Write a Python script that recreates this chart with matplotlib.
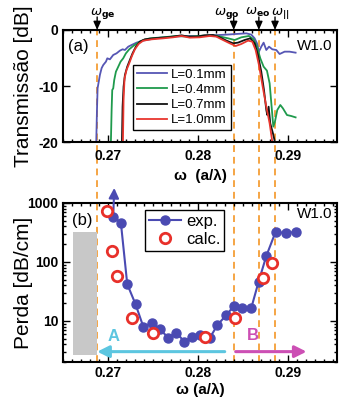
import matplotlib
matplotlib.use("Agg")
import matplotlib.pyplot as plt
import matplotlib.transforms as mtransforms
from matplotlib.lines import Line2D
from matplotlib.patches import Rectangle
from matplotlib.ticker import FixedLocator, MultipleLocator, LogLocator, NullFormatter

plt.rcParams['font.family'] = ['Liberation Sans', 'DejaVu Sans']
plt.rcParams['mathtext.fontset'] = 'dejavusans'

# ---------------- transmission spectra (panel a) ----------------
w_01 = [0.26870, 0.26878, 0.26885, 0.26911, 0.26930, 0.26948, 0.26978, 0.26993,
        0.27022, 0.27059, 0.27096, 0.27133, 0.27163, 0.27189, 0.27226, 0.27263,
        0.27319, 0.27393, 0.27467, 0.27578, 0.27726, 0.27874, 0.28022, 0.28170,
        0.28319, 0.28430, 0.28541, 0.28596, 0.28633, 0.28659, 0.28681, 0.28707,
        0.28733, 0.28763, 0.28793, 0.28830, 0.28874, 0.28911, 0.28967, 0.29022,
        0.29089]
t_01 = [-20.0, -14.3, -10.4, -8.0, -6.8, -6.25, -5.65, -5.06,
        -5.24, -4.46, -4.17, -3.69, -3.45, -3.57, -2.98, -2.68,
        -2.26, -1.90, -1.67, -1.37, -1.19, -1.07, -1.07, -0.95,
        -0.83, -0.71, -0.60, -0.83, -1.49, -2.38, -3.87, -2.98,
        -2.26, -3.57, -2.98, -3.45, -3.57, -4.29, -3.87, -3.87,
        -4.05]

w_04 = [0.27033, 0.27041, 0.27048, 0.27059, 0.27070, 0.27089, 0.27115, 0.27141,
        0.27170, 0.27200, 0.27237, 0.27281, 0.27337, 0.27393, 0.27467, 0.27615,
        0.27763, 0.27911, 0.28059, 0.28207, 0.28337, 0.28411, 0.28485, 0.28570,
        0.28622, 0.28659, 0.28696, 0.28733, 0.28770, 0.28800, 0.28822, 0.28841,
        0.28859, 0.28885, 0.28919, 0.28948, 0.28993, 0.29041, 0.29089]
t_04 = [-20.0, -14.29, -10.71, -10.42, -8.93, -7.44, -6.55, -5.65,
        -5.06, -4.17, -3.45, -2.86, -2.26, -1.79, -1.49, -1.31,
        -1.07, -1.19, -1.01, -1.01, -1.49, -1.79, -1.31, -1.07,
        -1.67, -2.98, -5.06, -6.55, -7.26, -9.52, -13.69, -17.26,
        -16.37, -14.29, -13.39, -13.99, -15.18, -15.36, -15.60]

w_07 = [0.27156, 0.27163, 0.27174, 0.27189, 0.27215, 0.27244, 0.27274, 0.27311,
        0.27356, 0.27411, 0.27504, 0.27615, 0.27726, 0.27819, 0.27893, 0.27985,
        0.28078, 0.28170, 0.28244, 0.28319, 0.28393, 0.28448, 0.28522, 0.28585,
        0.28633, 0.28670, 0.28707, 0.28737, 0.28763, 0.28774, 0.28789, 0.28807,
        0.28837, 0.28859]
t_07 = [-20.0, -13.69, -10.12, -8.04, -6.55, -5.36, -4.17, -2.98,
        -2.08, -1.67, -1.49, -1.37, -1.19, -0.95, -1.19, -1.19,
        -0.95, -0.89, -1.31, -1.90, -2.38, -2.26, -1.79, -1.49,
        -2.38, -4.46, -7.44, -10.71, -14.29, -15.18, -13.69, -16.67,
        -18.45, -20.0]

w_10 = [0.27167, 0.27174, 0.27185, 0.27207, 0.27237, 0.27267, 0.27300, 0.27341,
        0.27393, 0.27485, 0.27615, 0.27726, 0.27819, 0.27911, 0.28022, 0.28133,
        0.28207, 0.28281, 0.28356, 0.28422, 0.28485, 0.28559, 0.28607, 0.28644,
        0.28681, 0.28726, 0.28763, 0.28800, 0.28830]
t_10 = [-20.0, -12.5, -8.63, -7.14, -5.95, -4.64, -3.45, -2.50,
        -1.90, -1.67, -1.49, -1.31, -1.07, -1.37, -1.31, -1.07,
        -1.19, -1.79, -2.38, -2.86, -2.50, -1.90, -2.08, -3.57,
        -6.25, -10.42, -13.69, -16.67, -20.0]

lengths = ["L=0.1mm", "L=0.4mm", "L=0.7mm", "L=1.0mm"]
colors_a = ["#5656b4", "#1f9a4c", "#111111", "#e8362e"]

# ---------------- propagation loss (panel b) ----------------
exp_w = [0.27059, 0.27144, 0.27215, 0.27307, 0.27393, 0.27485, 0.27578, 0.27670,
         0.27763, 0.27848, 0.27941, 0.28022, 0.28133, 0.28219, 0.28319, 0.28403,
         0.28492, 0.28597, 0.28678, 0.28763, 0.28867, 0.28985, 0.29089]
exp_loss = [586, 464, 41.9, 19.2, 8.0, 9.1, 7.2, 5.2,
            6.3, 4.45, 5.4, 5.8, 5.1, 8.5, 12.6, 17.9,
            16.5, 16.8, 46.5, 126, 326, 306, 326]

calc_w = [0.26992, 0.27041, 0.27103, 0.27270, 0.27504, 0.28078, 0.28419, 0.28726, 0.28826]
calc_loss = [741, 155, 58.6, 11.1, 6.3, 5.25, 11.1, 52.9, 97]

# band-edge frequencies marked across both panels
omega_marks = [0.2688, 0.2840, 0.2868, 0.2886]
omega_names = [r'$\omega_{\mathbf{ge}}$', r'$\omega_{\mathbf{go}}$',
               r'$\omega_{\mathbf{eo}}$', r'$\omega_{\mathbf{||}}$']

xticks = [0.27, 0.28, 0.29]
xtick_labels = ["0.27", "0.28", "0.29"]
yticks_a = [0, -10, -20]
ytick_labels_a = ["0", "-10", "-20"]
yticks_b = [10, 100, 1000]
ytick_labels_b = ["10", "100", "1000"]

gray_band_w = (0.26611, 0.26878)
gray_band_loss = (2.6, 320)

region_a = (0.2830, 0.26881)
region_b = (0.28422, 0.29211)
region_level = 3.0

blue = "#4a4ab2"
red = "#e8302a"
orange = "#f5a544"
cyan = "#5cc6e0"
magenta = "#cc4fb4"

fig = plt.figure(figsize=(3.47, 4.03), dpi=100)
ax1 = fig.add_axes([0.1816, 0.6476, 0.7896, 0.278])
ax2 = fig.add_axes([0.1816, 0.1017, 0.7896, 0.3946])

for ax in (ax1, ax2):
    ax.set_facecolor('none')
    ax.set_xlim(0.265, 0.2955)
    for s in ax.spines.values():
        s.set_linewidth(1.5)
    ax.tick_params(which='both', direction='in', top=True, right=True, width=1)
    ax.tick_params(which='major', length=5)
    ax.tick_params(which='minor', length=2.5)
    ax.xaxis.set_major_locator(FixedLocator(xticks))
    ax.xaxis.set_minor_locator(MultipleLocator(0.001))
    ax.set_xticklabels(xtick_labels, fontweight='bold', fontsize=10)

# dashed guide lines spanning both panels (drawn behind the data)
trans = mtransforms.blended_transform_factory(ax1.transData, fig.transFigure)
y_top = 0.6476 + 0.278
y_bot = 0.1017
for wv in omega_marks:
    ln = Line2D([wv, wv], [y_bot, y_top], transform=trans, color=orange,
                lw=1.4, ls=(0, (3.5, 2.5)), zorder=-1)
    fig.add_artist(ln)

# ---- panel a ----
for w, t, lab, c in zip([w_01, w_04, w_07, w_10], [t_01, t_04, t_07, t_10], lengths, colors_a):
    ax1.plot(w, t, color=c, lw=1.3, label=lab)
ax1.set_ylim(-20, 0)
ax1.yaxis.set_major_locator(FixedLocator(yticks_a))
ax1.set_yticklabels(ytick_labels_a, fontweight='bold', fontsize=10)
ax1.tick_params(axis='x', pad=5)
ax1.set_ylabel("Transmissão [dB]", fontsize=15)
ax1.yaxis.set_label_coords(-0.11, 0.5)
ax1.set_xlabel("ω  (a/λ)", fontsize=11, fontweight='bold')
ax1.xaxis.set_label_coords(0.5, -0.24)
leg1 = ax1.legend(loc='upper left', bbox_to_anchor=(0.255, 0.69), fontsize=9.5,
                  handlelength=2.3, handletextpad=0.3, labelspacing=0.22,
                  borderpad=0.3, borderaxespad=0, fancybox=False, framealpha=1,
                  edgecolor='black')
leg1.get_frame().set_linewidth(1.0)
ax1.text(0.018, 0.857, "(a)", transform=ax1.transAxes, fontsize=12, va='center', ha='left')
ax1.text(0.985, 0.857, "W1.0", transform=ax1.transAxes, fontsize=11, va='center', ha='right')

label_dx = [-5.5, -14, -10, -3]
for wv, name, dx in zip(omega_marks, omega_names, label_dx):
    ax1.annotate('', xy=(wv, 1.0), xycoords=('data', 'axes fraction'),
                 xytext=(wv, 1.0 + 13 / 112), textcoords=('data', 'axes fraction'),
                 arrowprops=dict(arrowstyle='-|>,head_length=0.5,head_width=0.22',
                                 color='black', lw=1.0, shrinkA=0, shrinkB=0),
                 annotation_clip=False)
    ax1.annotate(name, xy=(wv, 1.0), xycoords=('data', 'axes fraction'),
                 xytext=(dx, 11), textcoords='offset points', ha='left',
                 va='baseline', fontsize=9.5, annotation_clip=False)

# ---- panel b ----
ax2.set_yscale('log')
ax2.set_ylim(2, 1000)
ax2.yaxis.set_major_locator(FixedLocator(yticks_b))
ax2.yaxis.set_minor_locator(LogLocator(base=10, subs=range(2, 10)))
ax2.yaxis.set_minor_formatter(NullFormatter())
ax2.set_yticklabels(ytick_labels_b, fontweight='bold', fontsize=10)
ax2.tick_params(axis='x', pad=3)

ax2.add_patch(Rectangle((gray_band_w[0], gray_band_loss[0]),
                        gray_band_w[1] - gray_band_w[0],
                        gray_band_loss[1] - gray_band_loss[0],
                        facecolor='#c8c8c8', edgecolor='none', zorder=1))

ax2.plot(exp_w, exp_loss, '-o', color=blue, lw=1.5, ms=6.5, zorder=3, label='exp.')
ax2.annotate('', xy=(0.2707, 1800), xytext=(exp_w[0], exp_loss[0]),
             arrowprops=dict(arrowstyle='-|>,head_length=0.6,head_width=0.3',
                             color=blue, lw=1.5, shrinkA=0, shrinkB=0),
             annotation_clip=False, zorder=3)
ax2.plot(calc_w, calc_loss, 'o', ls='none', mfc='white', mec=red, mew=2,
         ms=7.5, zorder=4, label='calc.')

ax2.annotate('', xy=(region_a[1], region_level), xytext=(region_a[0], region_level),
             arrowprops=dict(arrowstyle='-|>,head_length=0.7,head_width=0.35',
                             color=cyan, lw=2.2, shrinkA=0, shrinkB=0))
ax2.annotate('', xy=(region_b[1], region_level), xytext=(region_b[0], region_level),
             arrowprops=dict(arrowstyle='-|>,head_length=0.7,head_width=0.35',
                             color=magenta, lw=2.2, shrinkA=0, shrinkB=0),
             annotation_clip=False)
ax2.text(0.27059, 5.4, "A", color=cyan, fontsize=12, fontweight='bold', ha='center', va='center')
ax2.text(0.28615, 5.7, "B", color=magenta, fontsize=12, fontweight='bold', ha='center', va='center')

ax2.set_ylabel("Perda [dB/cm]", fontsize=15)
ax2.yaxis.set_label_coords(-0.11, 0.5)
ax2.set_xlabel("ω (a/λ)", fontsize=11, fontweight='bold')
ax2.xaxis.set_label_coords(0.5, -0.13)
leg2 = ax2.legend(loc='upper left', bbox_to_anchor=(0.299, 0.956), fontsize=12,
                  handlelength=1.9, handletextpad=0.3, labelspacing=0.15,
                  borderpad=0.25, borderaxespad=0, fancybox=False, framealpha=1,
                  edgecolor='black')
leg2.get_frame().set_linewidth(1.0)
ax2.text(0.033, 0.893, "(b)", transform=ax2.transAxes, fontsize=12, va='center', ha='left')
ax2.text(0.985, 0.93, "W1.0", transform=ax2.transAxes, fontsize=11, va='center', ha='right')

fig.savefig("out.png", dpi=100)
